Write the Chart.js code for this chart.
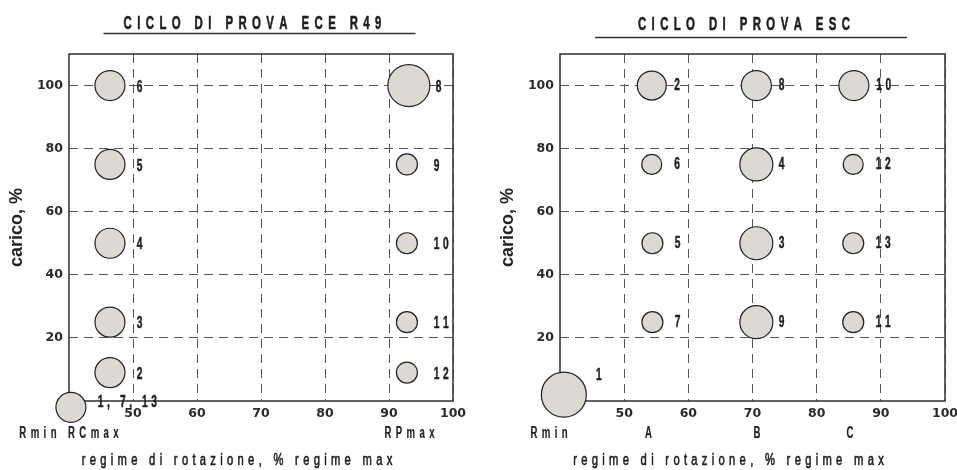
<!DOCTYPE html>
<html><head><meta charset="utf-8">
<script src="https://cdn.jsdelivr.net/npm/chart.js@4.4.1/dist/chart.umd.min.js"></script>
<style>
html,body{margin:0;padding:0;background:#fff;width:957px;height:470px;overflow:hidden}
canvas.c{position:absolute;top:0}
</style></head><body>
<canvas id="left" class="c" width="478" height="470" style="left:0"></canvas>
<canvas id="right" class="c" width="479" height="470" style="left:478px"></canvas>
<script>
// ---------- data ----------
const speedTicks = [50, 60, 70, 80, 90, 100];
const loadTicks = [20, 40, 60, 80, 100];

// ECE R49 (13 modes)
const eceModes  = ['1, 7, 13', '2', '3', '4', '5', '6', '8', '9', '10', '11', '12'];
const eceSpeed  = [40.3, 46.4, 46.4, 46.4, 46.4, 46.4, 93.1, 92.8, 92.8, 92.8, 92.8];
const eceLoad   = [-2, 9, 25, 50, 75, 100, 100, 75, 50, 25, 9];
const eceWeight = [15, 15, 15, 15, 15, 15, 21, 10.5, 10.5, 10.5, 10.5];
const eceSpeedNames = ['Rmin RCmax', 'RPmax'];
const eceSpeedNameAt = [40, 93.2];

// ESC (13 modes)
const escModes  = ['1', '2', '3', '4', '5', '6', '7', '8', '9', '10', '11', '12', '13'];
const escSpeed  = [40.6, 54.3, 70.6, 70.6, 54.4, 54.3, 54.4, 70.6, 70.6, 85.8, 85.7, 85.7, 85.7];
const escLoad   = [2, 100, 50, 75, 50, 75, 25, 100, 25, 100, 25, 75, 50];
const escWeight = [22.5, 14.5, 16.5, 16.5, 10.5, 10, 10.5, 15, 16.5, 15, 10.5, 10, 10.5];
const escSpeedNames = ['Rmin', 'A', 'B', 'C'];
const escSpeedNameAt = [38.3, 53.8, 70.7, 85.2];

const yTitle = 'carico, %';
const xTitle = 'regime di rotazione, % regime max';

// ---------- helpers ----------
function spacedText(ctx, text, x, y, o) {
  ctx.save();
  ctx.font = o.font;
  ctx.fillStyle = o.color || '#222';
  ctx.strokeStyle = o.color || '#222';
  ctx.lineWidth = o.stroke || 0;
  ctx.lineJoin = 'round';
  ctx.textBaseline = 'middle';
  ctx.textAlign = 'left';
  const chars = Array.from(text);
  const widths = chars.map(c => ctx.measureText(c).width * o.sx);
  const total = widths.reduce((a, b) => a + b, 0) + o.sp * (chars.length - 1);
  let cx = o.align === 'left' ? x : x - total / 2;
  chars.forEach((c, i) => {
    ctx.save();
    ctx.translate(cx, y);
    ctx.scale(o.sx, 1);
    ctx.fillText(c, 0, 0);
    if (o.stroke) ctx.strokeText(c, 0, 0);
    ctx.restore();
    cx += widths[i] + o.sp;
  });
  ctx.restore();
}

const decor = {
  id: 'decor',
  beforeDatasetsDraw(chart) {
    const a = chart.chartArea, ctx = chart.ctx;
    ctx.save();
    ctx.strokeStyle = '#3a3a3a';
    ctx.lineWidth = 1.6;
    ctx.strokeRect(a.left, a.top, a.right - a.left, a.bottom - a.top);
    ctx.restore();
  },
  afterDatasetsDraw(chart, args, opts) {
    const ctx = chart.ctx;
    const meta = chart.getDatasetMeta(0);
    const xs = chart.scales.x;
    const ds = chart.data.datasets[0];
    meta.data.forEach((el, i) => {
      const ov = (opts.overrides && opts.overrides[i]) || {};
      const px = xs.getPixelForValue(ds.data[i].x + (ov.dx !== undefined ? ov.dx : opts.dx));
      const py = el.y + (ov.dy || 0) + opts.dy;
      spacedText(ctx, opts.labels[i], px, py, {font: 'bold 17px "Liberation Sans", Arial, sans-serif', sx: 0.6, sp: 3.6, align: 'left', color: '#1e1e1e', stroke: 0.5});
    });
  },
  afterDraw(chart, args, opts) {
    const a = chart.chartArea, ctx = chart.ctx;
    const cx = (a.left + a.right) / 2;
    // title
    spacedText(ctx, opts.title, cx - 8.5, opts.titleY, {font: 'bold 19px "Liberation Sans", Arial, sans-serif', sx: 0.6, sp: 5.4, color: '#1e1e1e', stroke: 0.6});
    ctx.save();
    ctx.strokeStyle = '#333';
    ctx.lineWidth = 1.4;
    ctx.beginPath();
    ctx.moveTo(cx - 1.5 - 156, opts.lineY);
    ctx.lineTo(cx - 1.5 + 156, opts.lineY);
    ctx.stroke();
    ctx.restore();
    // y title
    ctx.save();
    ctx.translate(a.left - 51.5, (a.top + a.bottom) / 2);
    ctx.rotate(-Math.PI / 2);
    ctx.font = 'bold 18px "Liberation Sans", Arial, sans-serif';
    ctx.fillStyle = '#222';
    ctx.textAlign = 'center';
    ctx.textBaseline = 'middle';
    ctx.fillText(yTitle, 0, 0);
    ctx.restore();
    // speed names under the axis
    const xs = chart.scales.x;
    opts.names.forEach((n, i) => {
      spacedText(ctx, n, xs.getPixelForValue(opts.namesAt[i]), a.bottom + 33, {font: 'bold 16px "Liberation Sans", Arial, sans-serif', sx: 0.6, sp: 4.4, color: '#222', stroke: 0.2});
    });
    // x title
    spacedText(ctx, xTitle, cx - 24, a.bottom + 60, {font: '16px "Liberation Sans", Arial, sans-serif', sx: 0.7, sp: 4.3, color: '#222', stroke: 0.6});
  }
};

function makeChart(id, speed, load, weight, p) {
  const points = speed.map((s, i) => ({x: s, y: load[i], r: weight[i]}));
  return new Chart(document.getElementById(id), {
    type: 'bubble',
    data: {datasets: [{
      data: points,
      backgroundColor: '#dcd8d4',
      borderColor: '#222',
      borderWidth: 1.2,
      clip: false
    }]},
    plugins: [decor],
    options: {
      responsive: false,
      animation: false,
      devicePixelRatio: 1,
      layout: {autoPadding: false, padding: {left: 0, right: p.padRight, top: 54, bottom: 0}},
      plugins: {
        legend: {display: false},
        tooltip: {enabled: false},
        decor: {
          labels: p.labels, dx: p.dx, dy: p.dy, overrides: p.overrides,
          title: p.title, titleY: p.titleY, lineY: p.lineY,
          names: p.names, namesAt: p.namesAt
        }
      },
      scales: {
        x: {
          type: 'linear', min: 40, max: 100,
          afterBuildTicks: s => { s.ticks = speedTicks.map(v => ({value: v})); },
          afterFit: s => { s.height = 69; s.paddingLeft = 0; s.paddingRight = 0; },
          grid: {color: '#555', lineWidth: 1, drawTicks: false},
          border: {display: false, dash: [9, 6]},
          ticks: {padding: 5, color: '#2a2a2a', maxRotation: 0, autoSkip: false,
                  font: {family: 'DejaVu Sans', weight: 'bold', size: 12.5}}
        },
        y: {
          type: 'linear', min: 0, max: 110,
          afterBuildTicks: s => { s.ticks = loadTicks.map(v => ({value: v})); },
          afterFit: s => { s.width = p.yWidth; s.paddingTop = 0; s.paddingBottom = 0; },
          grid: {color: '#555', lineWidth: 1, drawTicks: false},
          border: {display: false, dash: [9, 6]},
          ticks: {padding: 6, color: '#2a2a2a', autoSkip: false,
                  font: {family: 'DejaVu Sans', weight: 'bold', size: 12.5}}
        }
      }
    }
  });
}

makeChart('left', eceSpeed, eceLoad, eceWeight, {
  padRight: 25, yWidth: 69,
  labels: eceModes, dx: 4.2, dy: 1.5, overrides: {0: {dy: -6.5}},
  title: 'CICLO DI PROVA ECE R49', titleY: 24, lineY: 33.5,
  names: eceSpeedNames, namesAt: eceSpeedNameAt
});

makeChart('right', escSpeed, escLoad, escWeight, {
  padRight: 12, yWidth: 82,
  labels: escModes, dx: 3.5, dy: 0, overrides: {0: {dx: 5.0, dy: -19}},
  title: 'CICLO DI PROVA ESC', titleY: 25, lineY: 37.5,
  names: escSpeedNames, namesAt: escSpeedNameAt
});
</script>
</body></html>
